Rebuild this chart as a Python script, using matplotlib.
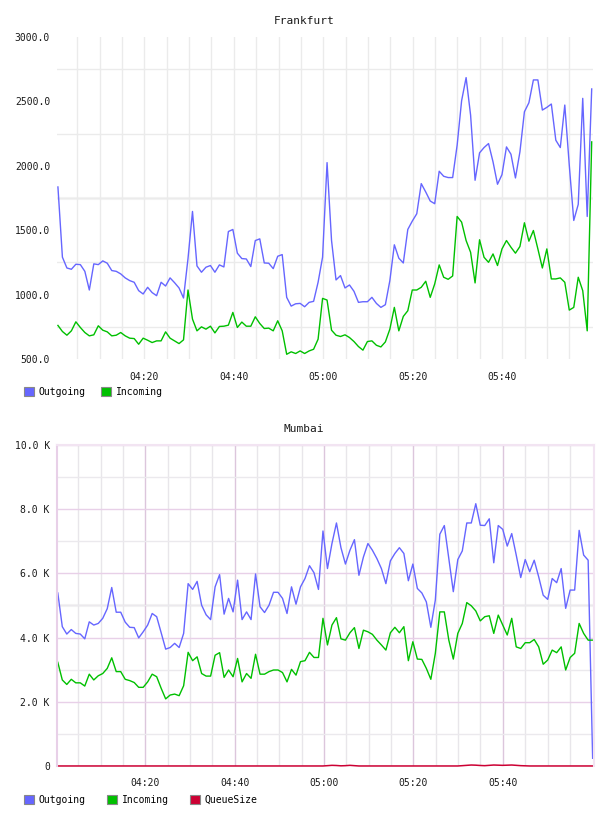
import numpy as np
import matplotlib
matplotlib.use("Agg")
import matplotlib.pyplot as plt
from matplotlib.patches import Patch
from matplotlib.ticker import FixedLocator, FuncFormatter

plt.rcParams['font.family'] = ['DejaVu Sans Mono']

# ---------------- data (one sample per minute, 04:00 -> 06:00) ----------------
fra_outgoing = [1836, 1291, 1207, 1197, 1236, 1233, 1181, 1036, 1239, 1233,
                1262, 1244, 1187, 1181, 1161, 1130, 1109, 1096, 1031, 1005,
                1057, 1016, 992, 1096, 1067, 1130, 1093, 1052, 974, 1280,
                1646, 1223, 1174, 1213, 1226, 1174, 1231, 1215, 1490, 1506,
                1322, 1280, 1277, 1218, 1420, 1433, 1246, 1244, 1202, 1298,
                1311, 979, 911, 929, 932, 906, 940, 948, 1096, 1291,
                2025, 1420, 1114, 1148, 1052, 1075, 1026, 940, 945, 945,
                979, 932, 901, 922, 1109, 1387, 1283, 1246, 1506, 1571,
                1628, 1862, 1797, 1727, 1706, 1958, 1919, 1909, 1909, 2160,
                2506, 2685, 2394, 1888, 2101, 2142, 2173, 2031, 1857, 1932,
                2147, 2090, 1906, 2109, 2420, 2490, 2667, 2667, 2433, 2454,
                2480, 2199, 2142, 2472, 2005, 1576, 1701, 2524, 1607, 2597]

fra_incoming = [761, 714, 685, 719, 789, 745, 706, 680, 688, 758,
                724, 711, 680, 685, 706, 680, 662, 659, 615, 662,
                646, 628, 641, 641, 711, 662, 641, 620, 649, 1036,
                810, 719, 750, 732, 755, 703, 753, 755, 763, 862,
                745, 787, 755, 755, 828, 776, 737, 740, 719, 797,
                719, 537, 556, 543, 563, 543, 563, 576, 654, 971,
                958, 724, 685, 675, 688, 667, 636, 597, 569, 636,
                641, 607, 594, 633, 732, 901, 719, 831, 875, 1036,
                1036, 1057, 1104, 979, 1083, 1231, 1135, 1119, 1145, 1607,
                1563, 1420, 1329, 1091, 1426, 1290, 1251, 1316, 1226, 1355,
                1420, 1368, 1322, 1374, 1558, 1415, 1498, 1355, 1207, 1355,
                1122, 1122, 1130, 1096, 880, 901, 1135, 1031, 719, 2186]

# Mumbai values in thousands
mum_outgoing = [5.39, 4.34, 4.11, 4.25, 4.13, 4.11, 3.96, 4.49, 4.39, 4.44,
                4.60, 4.90, 5.56, 4.79, 4.79, 4.48, 4.32, 4.31, 3.99, 4.18,
                4.39, 4.75, 4.65, 4.15, 3.64, 3.69, 3.82, 3.69, 4.13, 5.68,
                5.50, 5.75, 5.01, 4.71, 4.56, 5.58, 5.96, 4.73, 5.22, 4.80,
                5.79, 4.56, 4.80, 4.56, 5.98, 4.96, 4.78, 5.01, 5.41, 5.41,
                5.22, 4.75, 5.58, 5.04, 5.58, 5.84, 6.24, 6.02, 5.50, 7.32,
                6.15, 6.93, 7.57, 6.80, 6.29, 6.72, 7.05, 5.94, 6.51, 6.93,
                6.72, 6.46, 6.15, 5.68, 6.39, 6.62, 6.80, 6.62, 5.77, 6.29,
                5.53, 5.39, 5.11, 4.32, 5.17, 7.22, 7.49, 6.46, 5.43, 6.43,
                6.70, 7.57, 7.57, 8.17, 7.50, 7.49, 7.70, 6.33, 7.49, 7.37,
                6.85, 7.24, 6.57, 5.87, 6.43, 6.05, 6.41, 5.89, 5.32, 5.19,
                5.84, 5.71, 6.15, 4.91, 5.48, 5.48, 7.34, 6.57, 6.41, 0.24]

mum_incoming = [3.23, 2.68, 2.54, 2.70, 2.59, 2.59, 2.49, 2.86, 2.68, 2.81,
                2.88, 3.04, 3.37, 2.94, 2.94, 2.70, 2.66, 2.60, 2.45, 2.45,
                2.62, 2.86, 2.78, 2.42, 2.09, 2.21, 2.24, 2.19, 2.50, 3.54,
                3.28, 3.40, 2.88, 2.80, 2.80, 3.45, 3.53, 2.76, 2.99, 2.78,
                3.35, 2.62, 2.88, 2.73, 3.48, 2.86, 2.86, 2.94, 2.99, 2.99,
                2.91, 2.62, 3.01, 2.83, 3.25, 3.28, 3.54, 3.38, 3.38, 4.60,
                3.77, 4.39, 4.62, 3.96, 3.92, 4.15, 4.31, 3.66, 4.23, 4.18,
                4.10, 3.92, 3.77, 3.61, 4.15, 4.32, 4.15, 4.34, 3.28, 3.87,
                3.33, 3.32, 3.04, 2.70, 3.51, 4.80, 4.80, 3.92, 3.33, 4.13,
                4.44, 5.09, 4.99, 4.83, 4.52, 4.65, 4.68, 4.13, 4.70, 4.39,
                4.08, 4.60, 3.71, 3.66, 3.84, 3.84, 3.94, 3.71, 3.17, 3.30,
                3.61, 3.53, 3.71, 2.99, 3.38, 3.51, 4.44, 4.13, 3.92, 3.92]

mum_queue = [0, 0, 0, 0, 0, 0, 0, 0, 0, 0,
             0, 0, 0, 0, 0, 0, 0, 0, 0, 0,
             0, 0, 0, 0, 0, 0, 0, 0, 0, 0,
             0, 0, 0, 0, 0, 0, 0, 0, 0, 0,
             0, 0, 0, 0, 0, 0, 0, 0, 0, 0,
             0, 0, 0, 0, 0, 0, 0, 0, 0, 0,
             10, 20, 15, 5, 10, 20, 10, 0, 0, 0,
             0, 0, 0, 0, 0, 0, 0, 0, 0, 0,
             0, 0, 0, 0, 0, 0, 0, 0, 0, 0,
             10, 20, 30, 25, 15, 10, 20, 30, 25, 20,
             25, 30, 20, 10, 5, 0, 0, 0, 0, 0,
             0, 0, 0, 0, 0, 0, 0, 0, 0, 0]

y_ticks_fra = [500, 1000, 1500, 2000, 2500, 3000]
y_grid_fra = [750, 1250, 1750, 2250, 2750]
y_ticks_mum = [0, 2000, 4000, 6000, 8000, 10000]
y_grid_mum = [1000, 3000, 5000, 7000, 9000]
x_major = [20, 40, 60, 80, 100]          # minutes after 04:00
x_minor = list(range(5, 120, 5))

C_OUT = '#6666ff'
C_IN = '#00c000'
C_Q = '#cc0033'

# sample times in minutes after 04:00
t_fra = np.linspace(0.7, 120.0, len(fra_outgoing))
t_mum = np.linspace(0.4, 120.1, len(mum_outgoing))


def hhmm(v, pos):
    m = int(round(v))
    return f"{4 + m // 60:02d}:{m % 60:02d}"


def style_x(ax):
    ax.xaxis.set_major_locator(FixedLocator(x_major))
    ax.xaxis.set_minor_locator(FixedLocator(x_minor))
    ax.xaxis.set_major_formatter(FuncFormatter(hhmm))
    ax.tick_params(axis='both', which='both', length=0, labelsize=7, colors='#1a1a1a')
    ax.tick_params(axis='x', pad=9)
    ax.tick_params(axis='y', pad=5)


fig = plt.figure(figsize=(6.08, 8.16), dpi=100)

# ---------------- Frankfurt ----------------
ax1 = fig.add_axes([0.0938, 0.5600, 0.8816, 0.3946])
ax1.set_xlim(0.5, 120.3)
ax1.set_ylim(500, 3000)
style_x(ax1)
ax1.set_yticks(y_ticks_fra)
ax1.set_yticks(y_grid_fra, minor=True)
ax1.yaxis.set_major_formatter(FuncFormatter(lambda v, p: f"{v:.1f}"))
for s in ax1.spines.values():
    s.set_visible(False)
ax1.xaxis.grid(True, which='both', color='#ebebeb', linewidth=1.0)
ax1.yaxis.grid(True, which='minor', color='#ebebeb', linewidth=1.0)
ax1.yaxis.grid(False, which='major')
ax1.axhline(1750, color='#f4f4f4', linewidth=2.2, zorder=0.5)
ax1.set_axisbelow(True)
ax1.plot(t_fra, fra_outgoing, color=C_OUT, linewidth=1.0)
ax1.plot(t_fra, fra_incoming, color=C_IN, linewidth=1.0)
fig.text(0.5, 1 - 21 / 816, 'Frankfurt', ha='center', va='center', fontsize=8, color='#1a1a1a')

leg1 = [Patch(facecolor=C_OUT, edgecolor='#888888', linewidth=0.8, label='Outgoing'),
        Patch(facecolor=C_IN, edgecolor='#888888', linewidth=0.8, label='Incoming')]
fig.legend(handles=leg1, loc='center left', bbox_to_anchor=(24 / 608, 1 - 392 / 816), ncol=2,
           frameon=False, fontsize=7, handlelength=1.0, handleheight=1.0, handletextpad=0.5,
           columnspacing=1.6, borderpad=0, borderaxespad=0)

# ---------------- Mumbai ----------------
ax2 = fig.add_axes([0.0933, 0.0613, 0.8829, 0.3934])
ax2.set_xlim(0.16, 120.3)
ax2.set_ylim(0, 10000)
style_x(ax2)
ax2.set_yticks(y_ticks_mum)
ax2.set_yticks(y_grid_mum, minor=True)
ax2.yaxis.set_major_formatter(FuncFormatter(lambda v, p: '0' if v == 0 else f"{v / 1000:.1f} K"))
ax2.xaxis.grid(True, which='minor', color='#e8e6ea', linewidth=1.0)
ax2.xaxis.grid(True, which='major', color='#dcc6dc', linewidth=1.0)
ax2.yaxis.grid(True, which='minor', color='#ebe9ed', linewidth=1.0)
ax2.yaxis.grid(True, which='major', color='#e8d0e8', linewidth=1.0)
ax2.axhline(5000, color='#f4f4f4', linewidth=2.2, zorder=0.5)
ax2.set_axisbelow(True)
for side in ['top', 'right', 'left']:
    ax2.spines[side].set_color('#f2e4f2')
    ax2.spines[side].set_linewidth(1.5)
ax2.spines['left'].set_color('#e8d0e8')
ax2.spines['bottom'].set_visible(False)
ax2.plot(t_mum, np.array(mum_outgoing) * 1000, color=C_OUT, linewidth=1.0)
ax2.plot(t_mum, np.array(mum_incoming) * 1000, color=C_IN, linewidth=1.0)
ax2.plot(t_mum, mum_queue, color=C_Q, linewidth=1.1, clip_on=False)
fig.text(0.5, 1 - 429 / 816, 'Mumbai', ha='center', va='center', fontsize=8, color='#1a1a1a')

leg2 = [Patch(facecolor=C_OUT, edgecolor='#888888', linewidth=0.8, label='Outgoing'),
        Patch(facecolor=C_IN, edgecolor='#888888', linewidth=0.8, label='Incoming'),
        Patch(facecolor=C_Q, edgecolor='#888888', linewidth=0.8, label='QueueSize')]
fig.legend(handles=leg2, loc='center left', bbox_to_anchor=(24 / 608, 1 - 800 / 816), ncol=3,
           frameon=False, fontsize=7, handlelength=1.0, handleheight=1.0, handletextpad=0.5,
           columnspacing=2.2, borderpad=0, borderaxespad=0)

fig.savefig('out.png', dpi=100)
